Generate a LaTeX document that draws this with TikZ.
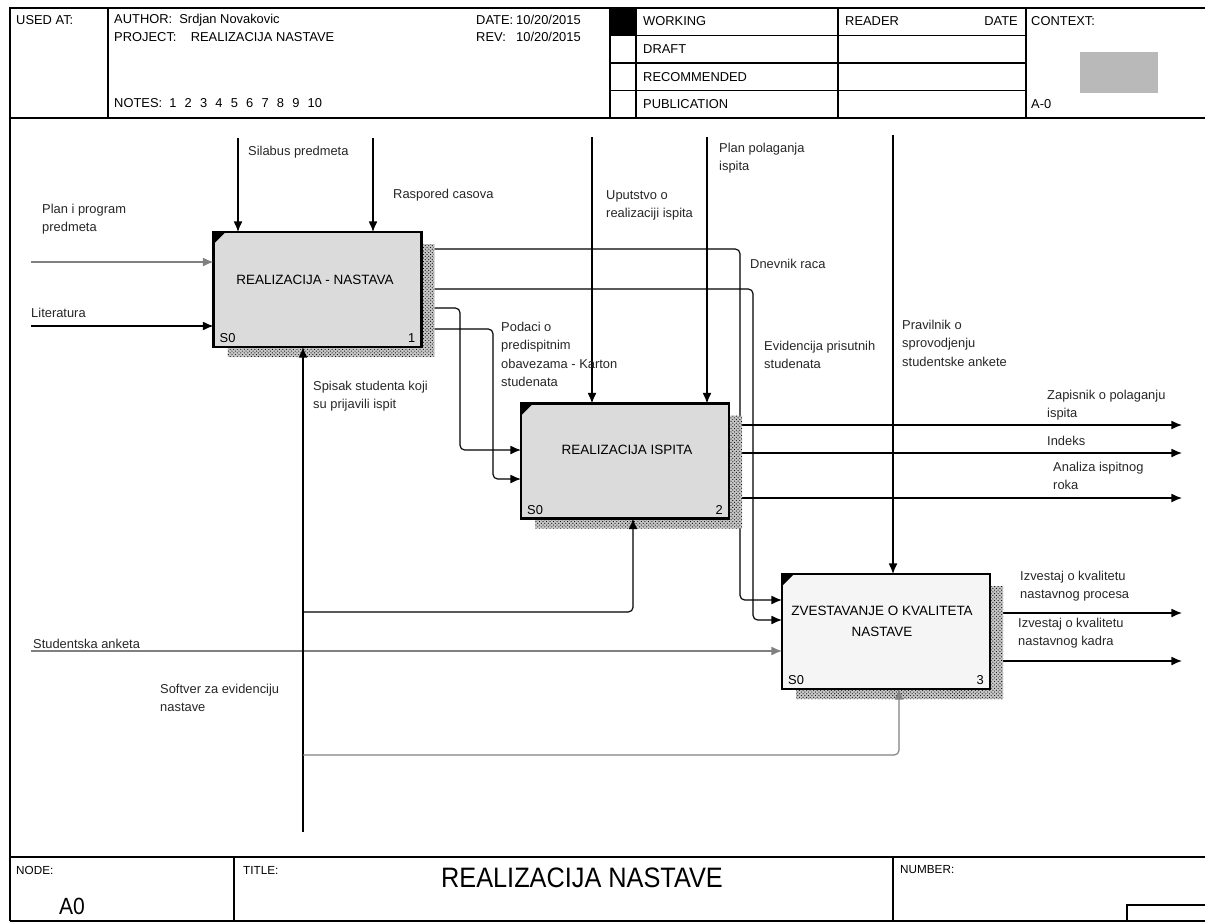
\documentclass[tikz,border=0pt]{standalone}
\usepackage{graphicx}
\usepackage{fontspec}
\setmainfont{Liberation Sans}
\usetikzlibrary{arrows.meta,positioning,patterns,backgrounds}

\newcommand{\lblfont}{\fontsize{11}{15.6}\selectfont}
\newcommand{\hdrfont}{\fontsize{11}{13}\selectfont}

\tikzset{
  actbox/.style={draw, line width=2.4pt, minimum width=62.4mm, minimum height=34.5mm, inner sep=0pt, outer sep=0pt},
  boxtxt/.style={font=\fontsize{11.5}{18}\selectfont, align=center, inner sep=0pt},
  cornertxt/.style={font=\fontsize{11}{12}\selectfont, inner sep=0pt},
  lbl/.style={anchor=north west, align=left, inner sep=0pt, font=\lblfont, text=black!85},
  hdr/.style={anchor=west, inner sep=0pt, font=\hdrfont},
  flow/.style={line width=1pt, -{Latex[length=9pt,width=7.5pt]}, rounded corners=4pt},
  softflow/.style={flow, draw=black!50},
  hatch/.style={pattern=crosshatch dots, pattern color=black, preaction={fill=gray!45}},
  rule/.style={line width=0.9pt},
}

\begin{document}
\begin{tikzpicture}[x=0.3mm,y=-0.3mm]
  \useasboundingbox (0,0) rectangle (1205,924);

  % Frame and header
  \draw[line width=1.3pt] (10,921) -- (10,8) -- (1205,8);
  \draw[line width=1.3pt] (10,118) -- (1205,118);
  \draw[rule] (108,8) -- (108,118) (610,8) -- (610,118) (636,8) -- (636,118)
    (838,8) -- (838,118) (1026,8) -- (1026,118);
  \foreach \y in {35.5,63,90.5}
    \draw[rule] (610,\y) -- (1026,\y);
  \fill (610,8) rectangle (636,35.5);
  \fill[gray!55] (1080,52) rectangle (1158,93);

  \node[hdr] (usedat) at (16,20) {USED AT:};
  \node[hdr] (author) at (114,20) {AUTHOR:\ \ Srdjan Novakovic};
  \node[hdr] (project) at (114,37) {PROJECT:\ \ \ \ REALIZACIJA NASTAVE};
  \node[hdr] (notes) at (114,103) {NOTES:\ \ 1\hspace{7pt}2\hspace{7pt}3\hspace{7pt}4\hspace{7pt}5\hspace{7pt}6\hspace{7pt}7\hspace{7pt}8\hspace{7pt}9\hspace{7pt}10};
  \node[hdr] (datekey) at (476,20) {DATE:};
  \node[hdr] (dateval) at (516,20) {10/20/2015};
  \node[hdr] (revkey) at (476,37) {REV:};
  \node[hdr] (revval) at (516,37) {10/20/2015};
  \node[hdr] (working) at (643,21.5) {WORKING};
  \node[hdr] (draft) at (643,49) {DRAFT};
  \node[hdr] (recomm) at (643,77) {RECOMMENDED};
  \node[hdr] (public) at (643,104) {PUBLICATION};
  \node[hdr] (reader) at (845,21.5) {READER};
  \node[hdr, anchor=east] (readdate) at (1018,21.5) {DATE};
  \node[hdr] (context) at (1031,21.5) {CONTEXT:};
  \node[hdr] (ctxnode) at (1031,104) {A-0};

  % Footer
  \draw[line width=1.3pt] (10,857) -- (1205,857);
  \draw[line width=1.3pt] (10,921) -- (1205,921);
  \draw[rule] (234,857) -- (234,921) (893,857) -- (893,921);
  \draw[rule] (1127,921) -- (1127,905) -- (1205,905);
  \node[hdr, font=\fontsize{10}{12}\selectfont] (nodekey) at (16,870) {NODE:};
  \node[hdr, font=\fontsize{10}{12}\selectfont] (titlekey) at (243,870) {TITLE:};
  \node[hdr, font=\fontsize{10}{12}\selectfont] (numkey) at (900,870) {NUMBER:};
  \node[inner sep=0pt] (nodeval) at (72,906) {\fontsize{20}{20}\selectfont\scalebox{0.9}[1]{A0}};
  \node[inner sep=0pt] (titleval) at (582,878) {\fontsize{24}{24}\selectfont\scalebox{0.9}[1]{REALIZACIJA NASTAVE}};

  % Activity boxes
  \node[actbox, fill=gray!28] (nastava) at (317.5,289.5) {};
  \node[actbox, fill=gray!28] (ispit) at (625,461) {};
  \node[actbox, fill=gray!8] (zvest) at (886,631.5) {};

  % Outputs (start under the shadows)
  \draw[flow] (nastava.east |- 0,249) -- (740,249) -- (740,600) -- (zvest.west |- 0,600);
  \draw[flow] (nastava.east |- 0,289) -- (753,289) -- (753,620) -- (zvest.west |- 0,620);
  \draw[flow] (nastava.east |- 0,308) -- (460,308) -- (460,450) -- (ispit.west |- 0,450);
  \draw[flow] (nastava.east |- 0,329) -- (493,329) -- (493,479) -- (ispit.west |- 0,479);

  \coordinate (zapout) at (1182,425);
  \coordinate (indout) at (1182,453);
  \coordinate (analout) at (1182,498);
  \coordinate (procout) at (1182,613);
  \coordinate (kadrout) at (1182,661);
  \foreach \o/\b in {zapout/ispit,indout/ispit,analout/ispit,procout/zvest,kadrout/zvest}
    \draw[flow] (\o -| \b.east) -- (\o);

  % Shadows, then the borders again
  \foreach \b in {nastava,ispit,zvest}{
    \fill[hatch] ([shift={(0,12)}]\b.north east) -- ([shift={(13,12)}]\b.north east)
      -- ([shift={(13,10)}]\b.south east) -- ([shift={(14,10)}]\b.south west)
      -- ([shift={(14,0)}]\b.south west) -- (\b.south east) -- cycle;
    \draw[line width=2.4pt] (\b.north west) rectangle (\b.south east);
    \fill (\b.north west) -- ++(12,0) -- ++(-12,12) -- cycle;
  }
  \foreach \b/\n in {nastava/1,ispit/2,zvest/3}{
    \node[cornertxt, anchor=south west] (\b-s0) at ([shift={(6,-4)}]\b.south west) {S0};
    \node[cornertxt, anchor=south east] (\b-num) at ([shift={(-6,-4)}]\b.south east) {\n};
  }

  \node[boxtxt] (nastava-t) at (315,280) {REALIZACIJA - NASTAVA};
  \node[boxtxt] (ispit-t) at (627,450) {REALIZACIJA ISPITA};
  \node[boxtxt] (zvest-t) at (882,621) {ZVESTAVANJE O KVALITETA\\NASTAVE};

  % Inputs
  \coordinate (planin) at (31,262);
  \coordinate (litin) at (31,326);
  \coordinate (ankin) at (31,651);
  \draw[softflow] (planin) -- (planin -| nastava.west);
  \draw[flow] (litin) -- (litin -| nastava.west);
  \draw[softflow] (ankin) -- (ankin -| zvest.west);

  % Controls
  \coordinate (silctl) at (238,138);
  \coordinate (rasctl) at (373,138);
  \coordinate (upctl) at (592,137);
  \coordinate (planctl) at (707,137);
  \coordinate (pravctl) at (893,135);
  \foreach \c/\b in {silctl/nastava,rasctl/nastava,upctl/ispit,planctl/ispit,pravctl/zvest}
    \draw[flow] (\c) -- (\c |- \b.north);

  % Mechanisms
  \coordinate (mehbot) at (303,832);
  \draw[flow] (mehbot) -- (mehbot |- nastava.south);
  \draw[flow] (303,612) -- (633,612) -- (633,0 |- ispit.south);
  \draw[softflow] (303,755) -- (899,755) -- (899,0 |- zvest.south);

  % Arrow labels
  \node[lbl] (silab) at (248,146) {Silabus predmeta};
  \node[lbl] (raspor) at (393,189) {Raspored casova};
  \node[lbl] (planprog) at (42,204) {Plan i program\\predmeta};
  \node[lbl] (literat) at (31,308) {Literatura};
  \node[lbl] (uputst) at (606,190) {Uputstvo o\\realizaciji ispita};
  \node[lbl] (planpol) at (719,143) {Plan polaganja\\ispita};
  \node[lbl] (dnevnik) at (750,259) {Dnevnik raca};
  \node[lbl] (evid) at (764,341) {Evidencija prisutnih\\studenata};
  \node[lbl] (podaci) at (501,322) {Podaci o\\predispitnim\\obavezama - Karton\\studenata};
  \node[lbl] (pravil) at (902,320) {Pravilnik o\\sprovodjenju\\studentske ankete};
  \node[lbl] (spisak) at (313,381) {Spisak studenta koji\\su prijavili ispit};
  \node[lbl] (zapis) at (1047,390) {Zapisnik o polaganju\\ispita};
  \node[lbl] (indeks) at (1047,436) {Indeks};
  \node[lbl] (analiza) at (1053,462) {Analiza ispitnog\\roka};
  \node[lbl] (izvproc) at (1020,571) {Izvestaj o kvalitetu\\nastavnog procesa};
  \node[lbl] (izvkadr) at (1018,618) {Izvestaj o kvalitetu\\nastavnog kadra};
  \node[lbl] (anketa) at (33,639) {Studentska anketa};
  \node[lbl] (softver) at (160,684) {Softver za evidenciju\\nastave};
\end{tikzpicture}
\end{document}
